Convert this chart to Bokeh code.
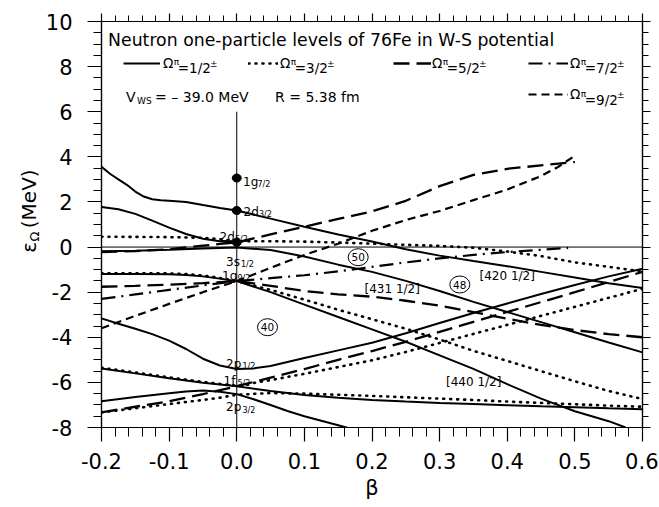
import math
from bokeh.plotting import figure
from bokeh.layouts import row
from bokeh.models import (Range1d, FixedTicker, PrintfTickFormatter, CustomJSTickFormatter,
                          LinearAxis, Label, Span, Legend, LegendItem)
from bokeh.core.properties import value
from bokeh.embed import file_html
from bokeh.resources import INLINE

FONT = "DejaVu Sans"

# ------------------------------------------------------------------ data
x_ticks = [-0.2, -0.1, 0.0, 0.1, 0.2, 0.3, 0.4, 0.5, 0.6]
y_ticks = [-8, -6, -4, -2, 0, 2, 4, 6, 8, 10]
x_minor = [round(-0.2 + 0.02 * i, 2) for i in range(41)]
y_minor = [-8 + 0.5 * i for i in range(37)]

# Omega = 1/2 (solid)
a_beta = [-0.2, -0.1875, -0.175, -0.1625, -0.15, -0.1375, -0.125, -0.1125, -0.1, -0.075, -0.05, -0.025, 0.0,
          0.05, 0.1, 0.15, 0.2, 0.25, 0.3, 0.35, 0.4, 0.45, 0.5, 0.55, 0.6]
a_eps = [3.56, 3.25, 3.0, 2.76, 2.46, 2.24, 2.12, 2.07, 2.05, 2.0, 1.86, 1.73, 1.62,
         1.26, 0.9, 0.56, 0.25, -0.1, -0.38, -0.62, -0.85, -1.1, -1.35, -1.6, -1.82]
b_beta = [-0.2, -0.175, -0.15, -0.125, -0.1, -0.075, -0.05, -0.025, 0.0]
b_eps = [1.78, 1.68, 1.47, 1.17, 0.86, 0.58, 0.37, 0.26, 0.21]
d_beta = [-0.2, -0.15, -0.1, -0.05, 0.0, 0.05, 0.1, 0.15, 0.2, 0.25, 0.3, 0.35, 0.4, 0.45, 0.5, 0.55, 0.6]
d_eps = [-0.19, -0.16, -0.12, -0.06, -0.02, -0.13, -0.42, -0.78, -1.1, -1.5, -1.95, -2.43, -2.88, -3.33,
         -3.78, -4.23, -4.67]
i_beta = [-0.2, -0.15, -0.1, -0.075, -0.05, -0.025, 0.0, 0.05, 0.1, 0.15, 0.2, 0.25, 0.3, 0.35, 0.4,
          0.45, 0.5, 0.55, 0.575]
i_eps = [-1.2, -1.2, -1.21, -1.24, -1.3, -1.4, -1.51, -2.0, -2.55, -3.1, -3.65, -4.2, -4.8, -5.4, -6.08,
         -6.72, -7.28, -7.72, -8.0]
j_beta = [-0.2, -0.175, -0.15, -0.125, -0.1, -0.075, -0.05, -0.025, 0.0, 0.025, 0.05, 0.1, 0.15, 0.2,
          0.25, 0.3, 0.35, 0.4, 0.45, 0.5, 0.55, 0.6]
j_eps = [-3.16, -3.4, -3.62, -3.86, -4.15, -4.52, -4.95, -5.25, -5.41, -5.38, -5.27, -4.92, -4.58, -4.24,
         -3.82, -3.37, -2.92, -2.5, -2.08, -1.68, -1.3, -0.96]
pm_beta = [-0.2, -0.15, -0.1, -0.05, 0.0, 0.05, 0.1, 0.15, 0.2, 0.25, 0.3, 0.35, 0.4, 0.45, 0.5, 0.55, 0.6]
pm_eps = [-5.38, -5.6, -5.82, -6.02, -6.17, -6.38, -6.56, -6.68, -6.78, -6.85, -6.91, -6.96, -7.01, -7.06,
          -7.1, -7.15, -7.19]
ro_beta = [-0.2, -0.15, -0.1, -0.075, -0.05, -0.025, 0.0, 0.025, 0.05, 0.075, 0.1, 0.125, 0.15, 0.165]
ro_eps = [-6.84, -6.65, -6.48, -6.4, -6.36, -6.42, -6.52, -6.75, -7.0, -7.27, -7.5, -7.7, -7.9, -8.02]

# Omega = 3/2 (dotted)
c_beta = [-0.2, -0.15, -0.1, -0.05, -0.025, 0.0, 0.05, 0.1, 0.15, 0.2, 0.25, 0.3, 0.35, 0.4, 0.45, 0.5,
          0.55, 0.6]
c_eps = [0.46, 0.45, 0.44, 0.41, 0.35, 0.26, 0.26, 0.24, 0.2, 0.15, 0.1, 0.05, -0.03, -0.2, -0.4, -0.68,
         -0.88, -1.08]
t_beta = [-0.2, -0.15, -0.1, -0.075, -0.05, -0.025, 0.0, 0.05, 0.1, 0.15, 0.2, 0.25, 0.3, 0.35, 0.4, 0.45,
          0.5, 0.55, 0.6]
t_eps = [-1.16, -1.16, -1.17, -1.2, -1.26, -1.37, -1.51, -1.9, -2.33, -2.78, -3.2, -3.62, -4.1, -4.6,
         -5.05, -5.5, -5.95, -6.38, -6.74]
ql_beta = [-0.2, -0.15, -0.1, -0.05, 0.0, 0.05, 0.1, 0.15, 0.2, 0.25, 0.3, 0.35, 0.4, 0.45, 0.5, 0.55, 0.6]
ql_eps = [-5.35, -5.56, -5.78, -5.98, -6.15, -5.9, -5.62, -5.32, -5.02, -4.65, -4.25, -3.85, -3.45, -3.05,
          -2.65, -2.25, -1.85]
sn_beta = [-0.2, -0.15, -0.1, -0.05, -0.025, 0.0, 0.05, 0.1, 0.15, 0.2, 0.25, 0.3, 0.35, 0.4, 0.45, 0.5,
           0.55, 0.6]
sn_eps = [-7.33, -7.15, -6.96, -6.78, -6.68, -6.55, -6.47, -6.5, -6.55, -6.6, -6.66, -6.72, -6.78, -6.85,
          -6.91, -6.97, -7.03, -7.08]

# Omega = 5/2 (long dash)
e_beta = [-0.2, -0.15, -0.1, -0.075, -0.05, -0.025, 0.0, 0.05, 0.1, 0.15, 0.2, 0.25, 0.3, 0.35, 0.4, 0.45, 0.5]
e_eps = [-0.22, -0.18, -0.1, -0.02, 0.06, 0.14, 0.21, 0.56, 0.9, 1.25, 1.58, 2.05, 2.7, 3.2, 3.47, 3.62, 3.77]
h_beta = [-0.2, -0.15, -0.1, -0.05, 0.0, 0.05, 0.1, 0.15, 0.2, 0.25, 0.3, 0.35, 0.4, 0.45, 0.5, 0.55, 0.6]
h_eps = [-1.76, -1.72, -1.67, -1.6, -1.51, -1.72, -1.95, -2.1, -2.2, -2.38, -2.6, -2.88, -3.18, -3.45,
         -3.68, -3.86, -4.0]
k_beta = [-0.2, -0.15, -0.1, -0.05, 0.0, 0.05, 0.1, 0.15, 0.2, 0.25, 0.3, 0.35, 0.4, 0.45, 0.5, 0.55, 0.6]
k_eps = [-7.33, -7.08, -6.84, -6.52, -6.17, -5.79, -5.41, -5.0, -4.61, -4.2, -3.76, -3.32, -2.88, -2.44,
         -2.0, -1.55, -1.1]

# Omega = 7/2 (dash-dot)
g_beta = [-0.2, -0.15, -0.1, -0.05, 0.0, 0.05, 0.1, 0.15, 0.2, 0.25, 0.3, 0.35, 0.4, 0.45, 0.49]
g_eps = [-2.3, -2.1, -1.9, -1.7, -1.51, -1.38, -1.25, -1.08, -0.88, -0.68, -0.5, -0.35, -0.22, -0.12, -0.04]

# Omega = 9/2 (short dash)
f_beta = [-0.2, -0.15, -0.1, -0.05, 0.0, 0.05, 0.1, 0.15, 0.2, 0.25, 0.3, 0.35, 0.4, 0.45, 0.475, 0.5]
f_eps = [-3.6, -3.05, -2.52, -2.0, -1.51, -0.92, -0.35, 0.15, 0.72, 1.2, 1.6, 2.08, 2.55, 3.15, 3.55, 4.05]

# spherical levels at beta = 0
level_main = ["1g", "2d", "2d", "3s", "1g", "2p", "1f", "2p"]
level_sub = ["7/2", "3/2", "5/2", "1/2", "9/2", "1/2", "5/2", "3/2"]
dot_eps = [3.06, 1.62, 0.21]          # 1g7/2, 2d3/2, 2d5/2
vline_top = 6.0

nilsson_text = ["[431 1/2]", "[420 1/2]", "[440 1/2]"]
magic_text = ["50", "48", "40"]
legend_frac = ["1/2", "3/2", "5/2", "7/2", "9/2"]

# ------------------------------------------------------------------ layout (page px)
LABEL_W = 42                      # width of the strip holding the y-axis title
FL, FT, FW, FH = 100.0, 21.0, 541.0, 406.0


def bx(px):
    return -0.2 + (px - FL) / FW * 0.8


def ey(py):
    return 10.0 - (py - FT) / FH * 18.0


p = figure(frame_width=541, frame_height=406, x_range=Range1d(-0.2, 0.6), y_range=Range1d(-8, 10),
           output_backend="svg", toolbar_location=None, title=None,
           min_border_left=int(FL) - LABEL_W, min_border_right=16, min_border_top=int(FT),
           min_border_bottom=78,
           background_fill_color="white", border_fill_color="white",
           outline_line_color="black", outline_line_width=1.2)
p.grid.visible = False

xt = FixedTicker(ticks=x_ticks, minor_ticks=x_minor)
yt = FixedTicker(ticks=y_ticks, minor_ticks=y_minor)


def style_axis(ax, major, minor, labels=True, standoff=6):
    ax.axis_line_width = 1.2
    ax.major_tick_line_width = 1.2
    ax.minor_tick_line_width = 1.0
    ax.major_tick_in = 0
    ax.minor_tick_in = 0
    ax.major_tick_out = major
    ax.minor_tick_out = minor
    ax.major_label_text_font = FONT
    ax.major_label_text_font_size = "21px"
    ax.major_label_text_color = "black"
    ax.major_label_standoff = standoff
    if not labels:
        ax.formatter = CustomJSTickFormatter(code="return ''")
        ax.major_label_standoff = 0


p.xaxis.ticker = xt
p.xaxis.formatter = PrintfTickFormatter(format="%.1f")
p.yaxis.ticker = yt
p.yaxis.formatter = PrintfTickFormatter(format="%d")
style_axis(p.xaxis[0], 14, 9, standoff=11)
style_axis(p.yaxis[0], 14, 8, standoff=15)
p.xaxis.axis_label = "\u03b2"
p.xaxis.axis_label_text_font = FONT
p.xaxis.axis_label_text_font_size = "21px"
p.xaxis.axis_label_text_font_style = "normal"
p.xaxis.axis_label_text_color = "black"
p.xaxis.axis_label_standoff = 4

top_ax = LinearAxis(ticker=xt)
style_axis(top_ax, 8, 6, labels=False)
p.add_layout(top_ax, "above")
right_ax = LinearAxis(ticker=yt)
style_axis(right_ax, 8, 6, labels=False)
p.add_layout(right_ax, "right")

# reference lines
p.add_layout(Span(location=0, dimension="width", line_color="black", line_width=1))
p.segment(x0=[0.0], y0=[-8.0], x1=[0.0], y1=[vline_top], line_color="black", line_width=1)

styles = {
    "solid": dict(line_width=2.0),
    "dot": dict(line_width=2.6, line_dash="1 6", line_cap="round"),
    "ldash": dict(line_width=2.3, line_dash="16 7"),
    "dashdot": dict(line_width=2.2, line_dash="14 6 2 6"),
    "sdash": dict(line_width=2.2, line_dash="8 5"),
}

curves = [
    (a_beta, a_eps, "solid"), (b_beta, b_eps, "solid"), (d_beta, d_eps, "solid"),
    (i_beta, i_eps, "solid"), (j_beta, j_eps, "solid"), (pm_beta, pm_eps, "solid"),
    (ro_beta, ro_eps, "solid"),
    (c_beta, c_eps, "dot"), (t_beta, t_eps, "dot"), (ql_beta, ql_eps, "dot"), (sn_beta, sn_eps, "dot"),
    (e_beta, e_eps, "ldash"), (h_beta, h_eps, "ldash"), (k_beta, k_eps, "ldash"),
    (g_beta, g_eps, "dashdot"),
    (f_beta, f_eps, "sdash"),
]
first = {}
for xs, ys, st in curves:
    r = p.line(xs, ys, line_color="black", **styles[st])
    first.setdefault(st, r)

# filled dots at spherical levels
p.ellipse(x=[0.0] * len(dot_eps), y=dot_eps, width=9, height=8, width_units="screen",
          height_units="screen", fill_color="black", line_color="black")


def txt(fig, x, y, s, size, align="left", baseline="alphabetic", angle=0.0):
    fig.add_layout(Label(x=x, y=y, text=s, text_font=FONT, text_font_size=f"{size}px",
                         text_align=align, text_baseline=baseline, angle=angle, text_color="black"))


def ptxt(px, py, s, size, align="left", baseline="alphabetic"):
    txt(p, bx(px), ey(py), s, size, align, baseline)


# level labels: (main x, main baseline, sub x, sub baseline)
level_pos = [(241.5, 181, 256.0, 184), (242.0, 211.5, 257.5, 214), (218.0, 236, 233.5, 238.5),
             (224.5, 261.5, 239.5, 264), (220.5, 275, 236.0, 278), (224.5, 363.5, 241.0, 366),
             (222.0, 380, 236.0, 383), (224.5, 406.5, 241.0, 409.5)]
for (mx, mb, sx, sb), m, s in zip(level_pos, level_main, level_sub):
    ptxt(mx, mb, m, 12)
    ptxt(sx, sb, s, 8)

# Nilsson labels
nil_pos = [(363.0, 288.4), (478.0, 275.0), (444.5, 381.7)]
for (nx, nb), s in zip(nil_pos, nilsson_text):
    ptxt(nx, nb, s, 12)

# circled magic numbers
magic_pos = [(356.7, 256.7), (458.3, 284.0), (266.0, 326.7)]
p.ellipse(x=[bx(mx) for mx, my in magic_pos], y=[ey(my) for mx, my in magic_pos], width=20, height=17,
          width_units="screen", height_units="screen", fill_color=None, line_color="black", line_width=1)
for (mx, my), s in zip(magic_pos, magic_text):
    ptxt(mx, my, s, 10.5, align="center", baseline="middle")

# title and parameters
ptxt(106.6, 39.3, "Neutron one-particle levels of 76Fe in W-S potential", 17.3)
ptxt(124.5, 96.7, "V", 14)
ptxt(135.5, 100.0, "WS", 9)
ptxt(153.6, 96.7, "= \u2013 39.0 MeV", 14)
ptxt(273.6, 96.7, "R = 5.38 fm", 14)

# legend entries: (style, sample left, row centre, glyph width, standoff)
leg_spec = [("solid", 122, 62.7, 37, 3), ("dot", 247, 62.7, 30, 2), ("ldash", 392, 62.7, 38, 1),
            ("dashdot", 527, 62.7, 40, 2), ("sdash", 527, 94.3, 40, 2)]
for (st, left, rowc, gw, so), frac in zip(leg_spec, legend_frac):
    vx = left - FL
    vy = (FT + FH) - rowc - 10
    lg = Legend(items=[LegendItem(label=value("\u03a9"), renderers=[first[st]])],
                location=(vx, vy), padding=0, margin=0, spacing=0,
                glyph_width=gw, glyph_height=20, label_height=20, label_width=8,
                label_standoff=so, border_line_alpha=0, background_fill_alpha=0,
                label_text_font=FONT, label_text_font_size="13.5px", label_text_color="black")
    p.add_layout(lg)
    o = left + gw + so
    bl = rowc + 5.0
    ptxt(o + 10.3, bl - 6.0, "\u03c0", 9)
    ptxt(o + 14.3, bl, "=" + frac, 13.5)
    ptxt(o + 46.5, bl - 4.7, "\u00b1", 9)

# strip on the left carrying the y-axis title (epsilon with subscript Omega)
total_h = int(FT + FH) + 78
lf = figure(width=LABEL_W, height=total_h, x_range=Range1d(0, LABEL_W), y_range=Range1d(total_h, 0),
            x_axis_type=None, y_axis_type=None, toolbar_location=None, output_backend="svg",
            min_border=0, outline_line_color=None, background_fill_color="white",
            border_fill_color="white")
txt(lf, 28.5, 220.5, "(MeV)", 20, align="center", baseline="middle", angle=math.pi / 2)
txt(lf, 28.5, 281.0, "\u03b5", 20, align="center", baseline="middle", angle=math.pi / 2)
txt(lf, 33.5, 267.5, "\u03a9", 13, align="center", baseline="middle", angle=math.pi / 2)

layout = row(lf, p)
open("out.html", "w").write(file_html(layout, INLINE))
